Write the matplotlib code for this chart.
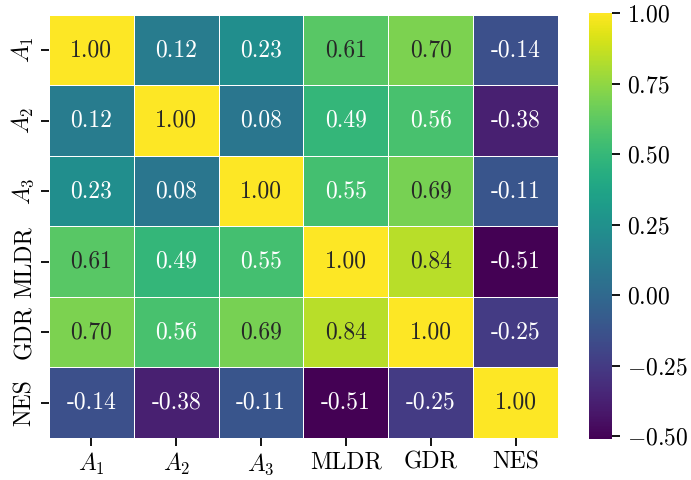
import matplotlib
matplotlib.use("Agg")
import matplotlib.pyplot as plt
import numpy as np
import pandas as pd
import seaborn as sns

labels = [r"$A_1$", r"$A_2$", r"$A_3$", "MLDR", "GDR", "NES"]

row_a1 = [1.00, 0.12, 0.23, 0.61, 0.70, -0.14]
row_a2 = [0.12, 1.00, 0.08, 0.49, 0.56, -0.38]
row_a3 = [0.23, 0.08, 1.00, 0.55, 0.69, -0.11]
row_mldr = [0.61, 0.49, 0.55, 1.00, 0.84, -0.51]
row_gdr = [0.70, 0.56, 0.69, 0.84, 1.00, -0.25]
row_nes = [-0.14, -0.38, -0.11, -0.51, -0.25, 1.00]

plt.rcParams["font.family"] = "serif"
plt.rcParams["font.serif"] = ["cmr10"]
plt.rcParams["mathtext.fontset"] = "cm"
plt.rcParams["axes.formatter.use_mathtext"] = True
plt.rcParams["axes.unicode_minus"] = True

corr = pd.DataFrame([row_a1, row_a2, row_a3, row_mldr, row_gdr, row_nes],
                    index=labels, columns=labels)

fig = plt.figure(figsize=(6.91, 4.80), dpi=100)
ax = fig.add_axes([0.0709, 0.0875, 0.7366, 0.8815])
cax = fig.add_axes([0.8524, 0.0854, 0.0333, 0.8875])

sns.heatmap(corr, ax=ax, cbar_ax=cax, cmap="viridis", annot=True, fmt=".2f",
            linewidths=0.7, linecolor="white",
            annot_kws={"fontsize": 17})

ax.tick_params(axis="both", labelsize=17, length=6, width=1.3)
ax.set_yticklabels(labels, rotation=90, va="center")
ax.set_xticklabels(labels, rotation=0)
cax.tick_params(labelsize=17, length=6, width=1.3, pad=5)
cax.set_yticks([-0.5, -0.25, 0.0, 0.25, 0.5, 0.75, 1.0])

fig.savefig("out.png", dpi=100)
